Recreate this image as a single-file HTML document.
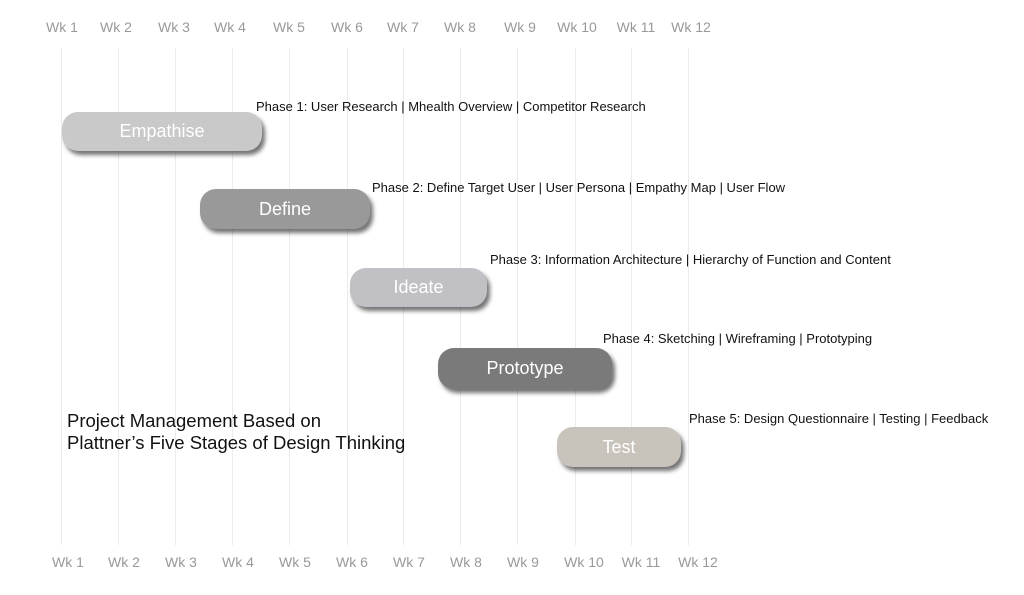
<!DOCTYPE html>
<html><head><style>
body{margin:0;width:1024px;height:595px;background:#fff;position:relative;overflow:hidden;font-family:"Liberation Sans",sans-serif}
.v{position:absolute;top:48px;height:497px;width:1px;background:#ebebeb}
.t{position:absolute;font-size:14px;color:#999;transform:translateX(-50%);white-space:nowrap}
.bar{position:absolute;border-radius:16px;color:#fff;font-size:18px;text-align:center;box-shadow:3px 4px 4px rgba(0,0,0,.55)}
.p{position:absolute;font-size:13px;color:#111;white-space:nowrap}
</style></head><body>
<div class="v" style="left:61px"></div><div class="v" style="left:118px"></div><div class="v" style="left:175px"></div><div class="v" style="left:232px"></div><div class="v" style="left:289px"></div><div class="v" style="left:347px"></div><div class="v" style="left:403px"></div><div class="v" style="left:460px"></div><div class="v" style="left:517px"></div><div class="v" style="left:575px"></div><div class="v" style="left:631px"></div><div class="v" style="left:688px"></div>
<div class="t" style="left:62px;top:19px">Wk 1</div><div class="t" style="left:116px;top:19px">Wk 2</div><div class="t" style="left:174px;top:19px">Wk 3</div><div class="t" style="left:230px;top:19px">Wk 4</div><div class="t" style="left:289px;top:19px">Wk 5</div><div class="t" style="left:347px;top:19px">Wk 6</div><div class="t" style="left:403px;top:19px">Wk 7</div><div class="t" style="left:460px;top:19px">Wk 8</div><div class="t" style="left:520px;top:19px">Wk 9</div><div class="t" style="left:577px;top:19px">Wk 10</div><div class="t" style="left:636px;top:19px">Wk 11</div><div class="t" style="left:691px;top:19px">Wk 12</div>
<div class="t" style="left:68px;top:554px">Wk 1</div><div class="t" style="left:124px;top:554px">Wk 2</div><div class="t" style="left:181px;top:554px">Wk 3</div><div class="t" style="left:238px;top:554px">Wk 4</div><div class="t" style="left:295px;top:554px">Wk 5</div><div class="t" style="left:352px;top:554px">Wk 6</div><div class="t" style="left:409px;top:554px">Wk 7</div><div class="t" style="left:466px;top:554px">Wk 8</div><div class="t" style="left:523px;top:554px">Wk 9</div><div class="t" style="left:584px;top:554px">Wk 10</div><div class="t" style="left:641px;top:554px">Wk 11</div><div class="t" style="left:698px;top:554px">Wk 12</div>
<div class="bar" style="left:62px;top:112px;width:200px;height:39px;line-height:39px;background:#c9c9c9">Empathise</div>
<div class="bar" style="left:200px;top:189px;width:170px;height:40px;line-height:40px;background:#999">Define</div>
<div class="bar" style="left:350px;top:268px;width:137px;height:39px;line-height:39px;background:#c0c0c5">Ideate</div>
<div class="bar" style="left:438px;top:348px;width:174px;height:41px;line-height:41px;background:#7a7a7a">Prototype</div>
<div class="bar" style="left:557px;top:427px;width:124px;height:40px;line-height:40px;background:#c8c4bc">Test</div>
<div class="p" style="left:256px;top:99px">Phase 1: User Research | Mhealth Overview | Competitor Research</div>
<div class="p" style="left:372px;top:180px">Phase 2: Define Target User | User Persona | Empathy Map | User Flow</div>
<div class="p" style="left:490px;top:252px">Phase 3: Information Architecture | Hierarchy of Function and Content</div>
<div class="p" style="left:603px;top:331px">Phase 4: Sketching | Wireframing | Prototyping</div>
<div class="p" style="left:689px;top:411px">Phase 5: Design Questionnaire | Testing | Feedback</div>
<div style="position:absolute;left:67px;top:410px;font-size:18.5px;line-height:22px;color:#111">Project Management Based on<br>Plattner’s Five Stages of Design Thinking</div>
</body></html>
